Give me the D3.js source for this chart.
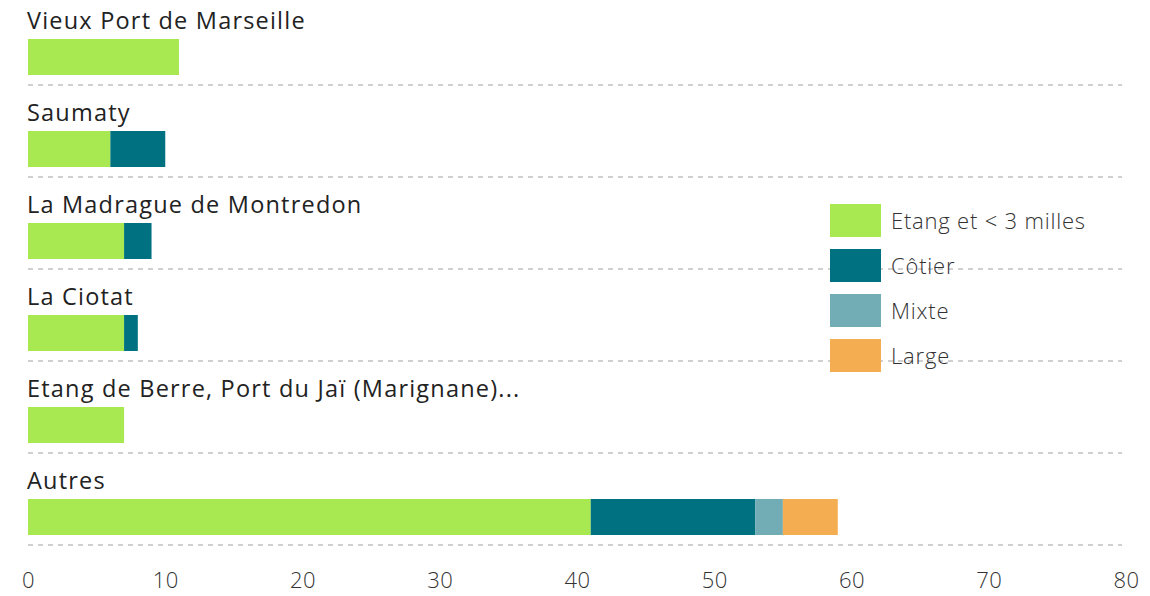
<!DOCTYPE html>
<html>
<head>
<meta charset="utf-8">
<script src="https://cdn.jsdelivr.net/npm/d3@7"></script>
<style>
  body { margin: 0; background: #fff; }
  text { font-family: "Open Sans", Lato, sans-serif; }
</style>
</head>
<body>
<div id="chart"></div>
<script>
const ports = ["Vieux Port de Marseille", "Saumaty", "La Madrague de Montredon", "La Ciotat",
  "Etang de Berre, Port du Jaï (Marignane)...", "Autres"];
const seriesNames = ["Etang et < 3 milles", "Côtier", "Mixte", "Large"];
const etang = [11, 6, 7, 7, 7, 41];
const cotier = [0, 4, 2, 1, 0, 12];
const mixte = [0, 0, 0, 0, 0, 2];
const large = [0, 0, 0, 0, 0, 4];
const xTicks = [0, 10, 20, 30, 40, 50, 60, 70, 80];
const colors = ["#a8e851", "#007180", "#72adb6", "#f5ad52"];

const width = 1150, height = 596;

const rows = ports.map((p, i) => ({
  port: p, "Etang et < 3 milles": etang[i], "Côtier": cotier[i], "Mixte": mixte[i], "Large": large[i]
}));

const svg = d3.select("#chart").append("svg")
  .attr("width", width)
  .attr("height", height);

const x = d3.scaleLinear().domain([0, 80]).range([28, 1126]);
const y = d3.scaleBand().domain(ports).range([0, 552]);
const color = d3.scaleOrdinal().domain(seriesNames).range(colors);

const stacked = d3.stack().keys(seriesNames)(rows);

// dashed separators
svg.selectAll(".sep")
  .data(ports)
  .enter()
  .append("line")
  .attr("x1", 28)
  .attr("x2", 1122)
  .attr("y1", d => y(d) + 85)
  .attr("y2", d => y(d) + 85)
  .attr("stroke", "#d0d0d0")
  .attr("stroke-width", 2)
  .attr("stroke-dasharray", "5,5");

// bars
svg.selectAll(".serie")
  .data(stacked)
  .enter()
  .append("g")
  .attr("fill", d => color(d.key))
  .selectAll("rect")
  .data(d => d)
  .enter()
  .append("rect")
  .attr("x", d => x(d[0]))
  .attr("y", d => y(d.data.port) + 39)
  .attr("width", d => x(d[1]) - x(d[0]))
  .attr("height", 36);

// row labels
svg.selectAll(".label")
  .data(ports)
  .enter()
  .append("text")
  .attr("x", 27)
  .attr("y", d => y(d) + 29)
  .attr("fill", "#222")
  .style("font-size", "23.5px")
  .style("letter-spacing", "1.2px")
  .style("font-weight", 400)
  .text(d => d);

// x axis
const axis = svg.append("g")
  .attr("transform", "translate(0,566)")
  .call(d3.axisBottom(x).tickValues(xTicks).tickSize(0).tickPadding(0));
axis.select(".domain").remove();
axis.selectAll("text")
  .attr("dy", "1em")
  .attr("fill", "#333")
  .style("font-size", "22px")
  .style("letter-spacing", "0.5px")
  .style("font-weight", 300)
  .style("font-family", "\"Open Sans\", Lato, sans-serif");

// legend
const legend = svg.selectAll(".legend")
  .data(seriesNames)
  .enter()
  .append("g")
  .attr("transform", (d, i) => "translate(830," + (204 + i * 45) + ")");

legend.append("rect")
  .attr("width", 51)
  .attr("height", 33)
  .attr("fill", d => color(d));

legend.append("text")
  .attr("x", 61)
  .attr("y", 25)
  .attr("fill", "#333")
  .style("font-size", "22px")
  .style("letter-spacing", "0.8px")
  .style("font-weight", 300)
  .text(d => d);
</script>
</body>
</html>
